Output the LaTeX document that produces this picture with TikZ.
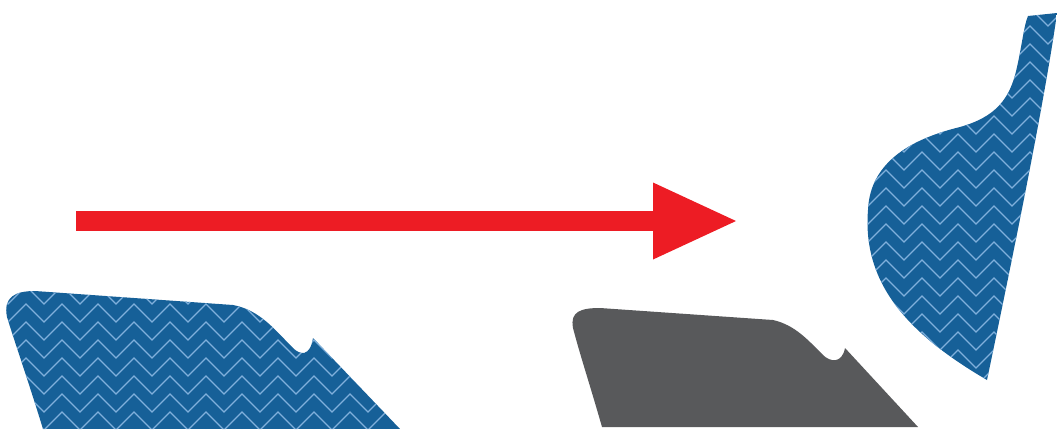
\documentclass[tikz,border=0pt]{standalone}
\usepackage{xcolor}
\usepackage{tikz}
\usetikzlibrary{arrows.meta}
\definecolor{myblue}{RGB}{22,96,152}
\definecolor{mylight}{RGB}{128,176,220}
\definecolor{mygray}{RGB}{88,89,91}
\definecolor{myred}{RGB}{237,28,36}

\begin{document}
\begin{tikzpicture}[x=1pt, y=-1pt,
    zigzag/.style={mylight, line width=1.1pt, line join=miter},
    flow/.style={-{Triangle[length=83pt, width=77pt, line width=0pt]},
        line width=20pt, myred}
]
\useasboundingbox (0,0) rectangle (1057,429);
% left shard, patterned
\begin{scope}
\clip (7,317) .. controls (3,297) and (15,291) .. (35,291)
    -- (233,305) .. controls (260,310) and (275,330) .. (293,348)
    .. controls (300,355) and (310,357) .. (313,338)
    -- (400,429) -- (43,429) .. controls (28,380) and (14,340) .. (7,317) -- cycle;
\fill[myblue] (0,280) rectangle (420,429);
\foreach \y in {268,286,...,448}
    \draw[zigzag] (-10,\y) \foreach \i in {1,...,12} {-- ++(18,18) -- ++(18,-18)};
\end{scope}
% grey shard
\fill[mygray] (573,328) .. controls (570,312) and (580,308) .. (600,308)
    -- (773,320) .. controls (795,325) and (808,340) .. (823,355)
    .. controls (830,362) and (842,364) .. (845,348)
    -- (918,427) -- (602,427) .. controls (590,385) and (580,355) .. (573,328) -- cycle;
% right shard, patterned
\begin{scope}
\clip (1028,16) -- (1057,13)
    .. controls (1045,100) and (1010,270) .. (987,380)
    .. controls (910,335) and (862,285) .. (868,210)
    .. controls (870,160) and (915,138) .. (960,127)
    .. controls (995,117) and (1010,100) .. (1017,67)
    .. controls (1022,45) and (1024,25) .. (1028,16) -- cycle;
\fill[myblue] (850,0) rectangle (1057,400);
\foreach \y in {-10,8,...,400}
    \draw[zigzag] (850,\y) \foreach \i in {1,...,6} {-- ++(18,18) -- ++(18,-18)};
\end{scope}
% arrow
\coordinate (start) at (76,221);
\coordinate (tip) at (736,221);
\draw[flow] (start) -- (tip);
\end{tikzpicture}
\end{document}
